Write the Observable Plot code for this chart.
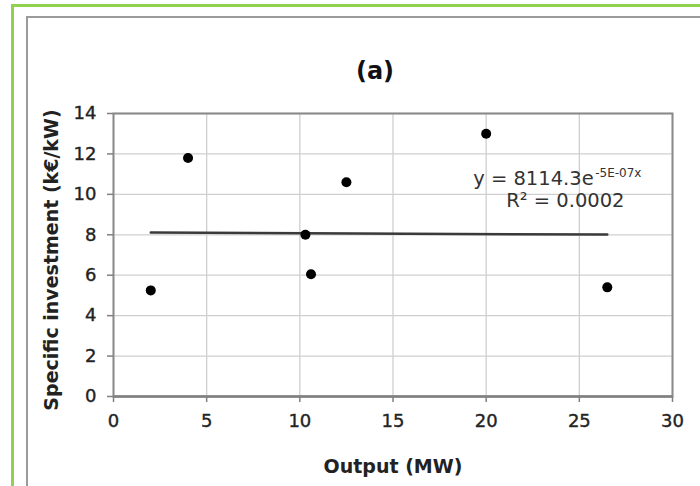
<!DOCTYPE html>
<html><head><meta charset="utf-8">
<script src="https://cdn.jsdelivr.net/npm/d3@7"></script>
<script src="https://cdn.jsdelivr.net/npm/@observablehq/plot@0.6"></script>
<style>
body{margin:0;background:#fff;}
#wrap{position:relative;width:700px;height:486px;overflow:hidden;background:#fff;}
#wrap svg{position:absolute;left:0;top:0;}
#wrap svg g[aria-label$="tick label"] text{stroke:#2a2a2a;stroke-width:0.4px;}
.green{position:absolute;left:11px;top:4px;width:800px;height:600px;border-left:3px solid #92d050;border-top:3px solid #92d050;}
.gray{position:absolute;left:26px;top:16px;width:800px;height:600px;border-left:2px solid #9b9b9b;border-top:2px solid #9b9b9b;}
</style></head>
<body><div id="wrap"></div>
<script>
const title = "(a)";
const xLabel = "Output (MW)";
const yLabel = "Specific investment (k€/kW)";
const outputMW = [2.0, 4.0, 10.3, 10.6, 12.5, 20.0, 26.5];
const investment = [5.25, 11.8, 8.0, 6.05, 10.6, 13.0, 5.4];
const trendX = [2.0, 26.5];
const trendY = [8.11, 8.01];
const xTicks = [0, 5, 10, 15, 20, 25, 30];
const yTicks = [0, 2, 4, 6, 8, 10, 12, 14];
const equationText = "y = 8114.3e";
const exponentText = "-5E-07x";
const r2Text = "R² = 0.0002";

const points = outputMW.map((x, i) => ({x, y: investment[i]}));
const trend = trendX.map((x, i) => ({x, y: trendY[i]}));

const chart = Plot.plot({
  width: 700, height: 486,
  marginLeft: 113, marginRight: 28, marginTop: 113, marginBottom: 90,
  style: {fontFamily: "'DejaVu Sans', sans-serif", fontSize: "18px", color: "#222", background: "transparent", overflow: "visible"},
  x: {domain: [0, 30]},
  y: {domain: [0, 14]},
  marks: [
    Plot.ruleX(xTicks, {stroke: "#cfcfcf", strokeWidth: 1.3}),
    Plot.ruleY(yTicks, {stroke: "#cfcfcf", strokeWidth: 1.3}),
    Plot.frame({stroke: "#8a8a8a", strokeWidth: 2}),
    Plot.ruleY([0], {stroke: "#808080", strokeWidth: 2.5}),
    Plot.axisX(xTicks, {tickSize: 6, tickPadding: 12, color: "#222", stroke: "#808080", strokeWidth: 1.5, label: null, fontSize: 18}),
    Plot.axisY(yTicks, {tickSize: 6, tickPadding: 11, color: "#222", stroke: "#808080", strokeWidth: 1.5, label: null, fontSize: 18}),
    Plot.line(trend, {x: "x", y: "y", stroke: "#3a3a3a", strokeWidth: 2.5}),
    Plot.dot(points, {x: "x", y: "y", r: 5, fill: "#000", stroke: null}),
    Plot.text([equationText], {text: d => d, x: 25.77, y: 10.45, textAnchor: "end", lineAnchor: "bottom", fontSize: 19.5, fill: "#333"}),
    Plot.text([exponentText], {text: d => d, x: 25.85, y: 10.85, textAnchor: "start", lineAnchor: "bottom", fontSize: 12, fill: "#333"}),
    Plot.text([r2Text], {text: d => d, x: 24.25, y: 9.36, textAnchor: "middle", lineAnchor: "bottom", fontSize: 19.5, fill: "#333"}),
    Plot.text([title], {text: d => d, frameAnchor: "top", dx: -18, dy: -35, lineAnchor: "bottom", fontSize: 24, fontWeight: "bold", fill: "#111"}),
    Plot.text([xLabel], {text: d => d, frameAnchor: "bottom", dy: 76, lineAnchor: "bottom", fontSize: 19, fontWeight: "bold", fill: "#222"}),
    Plot.text([yLabel], {text: d => d, frameAnchor: "left", rotate: -90, dx: -62, dy: 5, textAnchor: "middle", lineAnchor: "middle", fontSize: 19, fontWeight: "bold", fill: "#222"})
  ]
});
const wrap = document.getElementById("wrap");
wrap.appendChild(chart);
const g = document.createElement("div"); g.className = "green"; wrap.appendChild(g);
const gr = document.createElement("div"); gr.className = "gray"; wrap.appendChild(gr);
</script>
</body></html>
